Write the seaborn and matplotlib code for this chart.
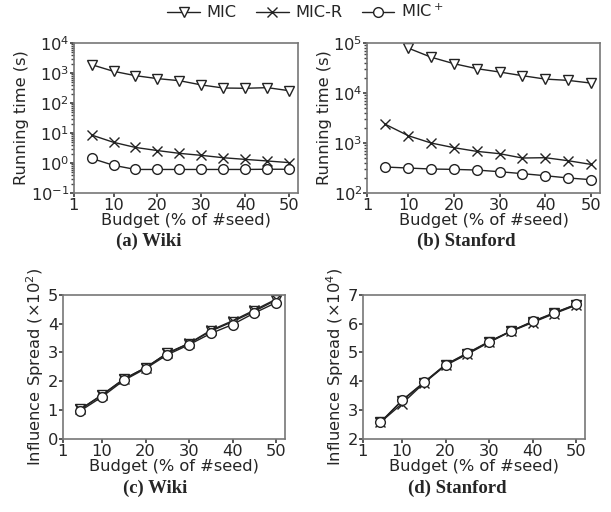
import numpy as np
import pandas as pd
import seaborn as sns
import matplotlib
matplotlib.use('Agg')
import matplotlib.pyplot as plt
from matplotlib.lines import Line2D
from matplotlib.ticker import LogLocator, NullFormatter

budget = [5, 10, 15, 20, 25, 30, 35, 40, 45, 50]
methods = ['MIC', 'MIC-R', 'MIC+']
labels = {'MIC': 'MIC', 'MIC-R': 'MIC-R', 'MIC+': 'MIC$^+$'}
markers = {'MIC': 'v', 'MIC-R': 'x', 'MIC+': 'o'}

# running time (s)
wiki_time_mic = [1900, 1140, 815, 650, 555, 400, 316, 310, 325, 257]
wiki_time_micr = [8.6, 4.9, 3.3, 2.6, 2.1, 1.8, 1.5, 1.32, 1.17, 1.03]
wiki_time_micp = [1.43, 0.84, 0.61, 0.61, 0.61, 0.61, 0.61, 0.61, 0.62, 0.62]

stan_budget_mic = [10, 15, 20, 25, 30, 35, 40, 45, 50]
stan_time_mic = [79000, 52000, 38600, 30700, 26300, 22200, 19000, 17900, 15800]
stan_time_micr = [2360, 1400, 1000, 807, 681, 612, 501, 509, 443, 374]
stan_time_micp = [331, 316, 302, 297, 288, 267, 244, 222, 200, 185]

# influence spread
wiki_inf_mic = [1.03, 1.53, 2.08, 2.47, 2.97, 3.31, 3.74, 4.07, 4.43, 4.82]
wiki_inf_micr = [1.02, 1.52, 2.07, 2.47, 2.98, 3.32, 3.77, 4.10, 4.47, 4.85]
wiki_inf_micp = [0.97, 1.46, 2.03, 2.44, 2.92, 3.27, 3.66, 3.97, 4.37, 4.73]

stan_inf_mic = [2.57, 3.32, 3.95, 4.57, 4.96, 5.37, 5.74, 6.06, 6.37, 6.66]
stan_inf_micr = [2.57, 3.22, 3.93, 4.55, 4.94, 5.35, 5.73, 6.04, 6.35, 6.64]
stan_inf_micp = [2.57, 3.34, 3.96, 4.58, 4.98, 5.38, 5.74, 6.08, 6.38, 6.67]

sns.set_theme(style='ticks')
plt.rcParams['font.family'] = ['DejaVu Sans']
plt.rcParams['mathtext.fontset'] = 'dejavusans'

fig = plt.figure(figsize=(6.11, 5.12), dpi=100)
ax_a = fig.add_axes([0.121, 0.623, 0.367, 0.293])
ax_b = fig.add_axes([0.601, 0.623, 0.381, 0.293])
ax_c = fig.add_axes([0.103, 0.143, 0.363, 0.281])
ax_d = fig.add_axes([0.594, 0.143, 0.363, 0.281])

panels = [
    (ax_a, {'MIC': (budget, wiki_time_mic), 'MIC-R': (budget, wiki_time_micr), 'MIC+': (budget, wiki_time_micp)}),
    (ax_b, {'MIC': (stan_budget_mic, stan_time_mic), 'MIC-R': (budget, stan_time_micr), 'MIC+': (budget, stan_time_micp)}),
    (ax_c, {'MIC': (budget, wiki_inf_mic), 'MIC-R': (budget, wiki_inf_micr), 'MIC+': (budget, wiki_inf_micp)}),
    (ax_d, {'MIC': (budget, stan_inf_mic), 'MIC-R': (budget, stan_inf_micr), 'MIC+': (budget, stan_inf_micp)}),
]

fs = 11.7
ms = 7
for ax, series in panels:
    for m in methods:
        xs, ys = series[m]
        df = pd.DataFrame({'budget': xs, 'value': ys})
        sns.lineplot(data=df, x='budget', y='value', ax=ax, color='#222222', lw=1,
                     marker=markers[m], markersize=ms, markerfacecolor='white',
                     markeredgecolor='#222222', markeredgewidth=1, legend=False)
    ax.set_xlim(1, 52)
    ax.set_xticks([1, 10, 20, 30, 40, 50])
    ax.set_xlabel('Budget (% of #seed)', fontsize=fs, labelpad=0)
    ax.tick_params(labelsize=fs, length=3, pad=0.5, color='#444444')
    for s in ax.spines.values():
        s.set_color('#777777')
        s.set_linewidth(1.2)

for ax, lo, hi in [(ax_a, 0.1, 1e4), (ax_b, 100, 1e5)]:
    ax.set_yscale('log')
    ax.set_ylim(lo, hi)
    ax.yaxis.set_major_locator(LogLocator(base=10, numticks=12))
    ax.yaxis.set_minor_locator(LogLocator(base=10, subs=np.arange(2, 10), numticks=12))
    ax.yaxis.set_minor_formatter(NullFormatter())
    ax.set_ylabel('Running time (s)', fontsize=fs, labelpad=1)
    ax.tick_params(axis='y', which='minor', length=2, color='#444444')

ax_c.set_ylim(0, 5)
ax_c.set_yticks([0, 1, 2, 3, 4, 5])
ax_c.set_ylabel('Influence Spread ($\\times10^2$)', fontsize=fs, labelpad=1)
ax_d.set_ylim(2, 7)
ax_d.set_yticks([2, 3, 4, 5, 6, 7])
ax_d.set_ylabel('Influence Spread ($\\times10^4$)', fontsize=fs, labelpad=1)

cap = dict(fontsize=13.5, fontweight='bold', family='Liberation Serif', ha='center', va='center')
fig.text(0.243, 0.529, '(a) Wiki', **cap)
fig.text(0.764, 0.529, '(b) Stanford', **cap)
fig.text(0.254, 0.047, '(c) Wiki', **cap)
fig.text(0.748, 0.047, '(d) Stanford', **cap)

handles = [Line2D([], [], color='#222222', lw=1, marker=markers[m], markersize=ms,
                  markerfacecolor='white', markeredgecolor='#222222') for m in methods]
fig.legend(handles, [labels[m] for m in methods], loc='center', bbox_to_anchor=(0.5, 0.977),
           ncol=3, frameon=False, fontsize=fs, handlelength=2.0, columnspacing=1.2,
           handletextpad=0.4, borderpad=0)

fig.savefig('out.png', dpi=100)
